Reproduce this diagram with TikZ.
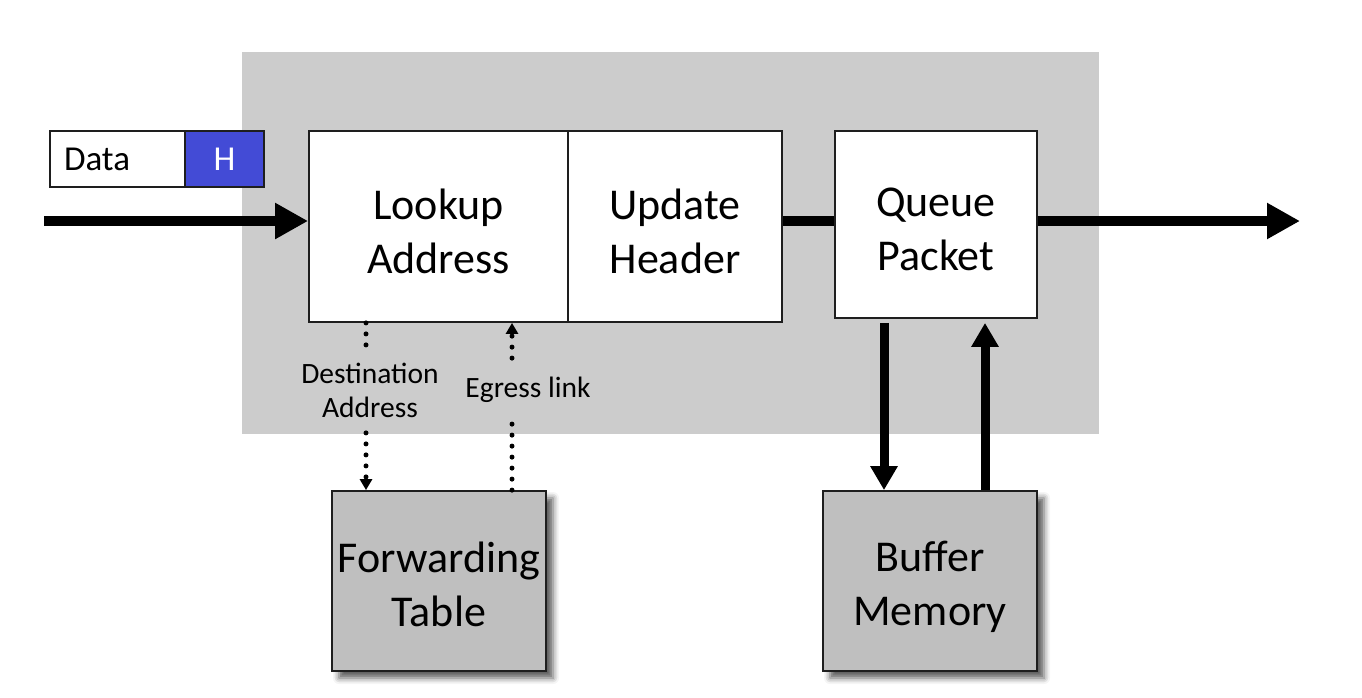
\documentclass[tikz,border=0pt]{standalone}
\usepackage{fontspec}
\setmainfont{Carlito}
\usetikzlibrary{arrows.meta,shadows.blur}
\definecolor{bggray}{RGB}{204,204,204}
\definecolor{boxgray}{RGB}{191,191,191}
\definecolor{hblue}{RGB}{67,75,214}
\definecolor{edge}{RGB}{30,30,30}
\begin{document}
\begin{tikzpicture}[x=1pt,y=-1pt,
  mainbox/.style={draw=edge, line width=1.8pt, fill=white, inner sep=0pt},
  graybox/.style={mainbox, fill=boxgray,
    blur shadow={shadow xshift=7pt, shadow yshift=-7pt, shadow blur radius=6pt, shadow opacity=65}},
  boxtext/.style={inner sep=0pt, align=center, font=\fontsize{44}{54}\selectfont},
  pktbox/.style={draw=edge, line width=1.5pt, minimum height=56pt, inner sep=0pt,
    font=\fontsize{35}{40}\selectfont},
  bigarrow/.style={line width=10pt, -{Triangle[length=33pt,width=34pt]}},
  vertarrow/.style={line width=9pt, -{Triangle[length=24pt,width=26pt]}},
  dotarrow/.style={line width=5pt, dash pattern=on 0pt off 11pt, line cap=round,
    -{Triangle[length=11pt,width=12pt]}},
  lbl/.style={fill=bggray, inner xsep=4pt, inner ysep=12pt, align=center,
    font=\fontsize{29.5}{34}\selectfont}
]
\useasboundingbox (0,0) rectangle (1362,697);
% background region
\node[fill=bggray, minimum width=857pt, minimum height=382pt, inner sep=0pt] (bg) at (670.5,243) {};

% packet
\node[pktbox, fill=white, minimum width=135pt, inner xsep=14pt, text width=107pt, align=left] (data) at (117.5,159) {Data};
\node[pktbox, fill=hblue, text=white, minimum width=79pt] (hbox) at (224.5,159) {H};

% main boxes
\node[mainbox, minimum width=259pt, minimum height=191pt,
  label={[boxtext, yshift=-5pt]center:Lookup\\Address}] (lookup) at (438.5,226.5) {};
\node[mainbox, minimum width=214pt, minimum height=191pt,
  label={[boxtext, yshift=-5pt]center:Update\\Header}] (update) at (675,226.5) {};
\node[mainbox, minimum width=202pt, minimum height=187pt,
  label={[boxtext, yshift=-5pt]center:Queue\\Packet}] (queue) at (936,224.5) {};
\node[graybox, minimum width=214pt, minimum height=180pt,
  label={[boxtext, yshift=-3pt]center:Forwarding\\Table}] (fwd) at (439,581) {};
\node[graybox, minimum width=214pt, minimum height=180pt,
  label={[boxtext, yshift=-6pt]center:Buffer\\Memory}] (buf) at (930,581) {};

% thick flow
\coordinate (in) at (44,221);
\coordinate (out) at (1300,221);
\draw[bigarrow] (in) -- (in -| lookup.west);
\draw[line width=10pt] (update.east |- in) -- (queue.west |- in);
\draw[bigarrow] (queue.east |- out) -- (out);

% queue <-> buffer
\draw[vertarrow, shorten <=4pt] ([xshift=-52pt]queue.south) -- ([xshift=-46pt]buf.north);
\draw[vertarrow, shorten >=4pt] ([xshift=55pt]buf.north) -- ([xshift=49pt]queue.south);

% lookup <-> forwarding table
\draw[dotarrow] ([xshift=-72.5pt]lookup.south) -- ([xshift=-73pt]fwd.north);
\draw[dotarrow] ([xshift=73pt]fwd.north) -- ([xshift=73.5pt]lookup.south);
\node[lbl] (dest) at (370,390) {Destination\\Address};
\node[lbl, inner ysep=13pt] (egress) at (528,390) {Egress link};
\end{tikzpicture}
\end{document}
